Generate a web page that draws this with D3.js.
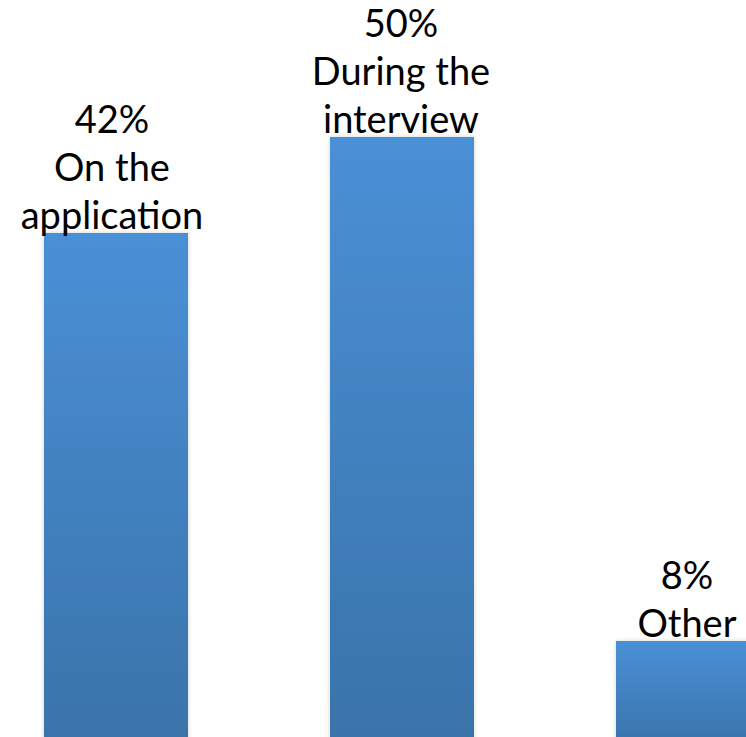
<!DOCTYPE html>
<html>
<head>
<meta charset="utf-8">
<script src="https://cdn.jsdelivr.net/npm/d3@7"></script>
<style>
  html, body { margin: 0; padding: 0; background: #fff; overflow: hidden; }
  svg { display: block; }
</style>
</head>
<body>
<svg id="main-svg"></svg>
<script>
// ----- //
// data
// ----- //
const categories = ["On the application", "During the interview", "Other"];
const values = [42, 50, 8];
const pctLabels = ["42%", "50%", "8%"];
const nameLines = [["On the", "application"], ["During the", "interview"], ["Other"]];

// ----- //
// layout
// ----- //
const width = 746, height = 737;

const svg = d3.select("#main-svg")
    .attr("width", width)
    .attr("height", height);

// bars run off the right edge, same as the original
const x = d3.scaleBand()
    .domain(categories)
    .range([44, 760])
    .paddingInner(142 / 286)
    .paddingOuter(0);

// 12px per percent, baseline at the bottom of the window
const y = d3.scaleLinear()
    .domain([0, 50])
    .range([height, height - 600]);

// gradient + soft shadow
const defs = svg.append("defs");
const grad = defs.append("linearGradient")
    .attr("id", "barGrad")
    .attr("x1", 0).attr("y1", 0).attr("x2", 0).attr("y2", 1);
grad.append("stop").attr("offset", "0%").attr("stop-color", "#4a90d6");
grad.append("stop").attr("offset", "100%").attr("stop-color", "#3973a9");

const shadow = defs.append("filter")
    .attr("id", "shadow")
    .attr("x", "-10%").attr("y", "-10%")
    .attr("width", "120%").attr("height", "120%");
shadow.append("feDropShadow")
    .attr("dx", 0).attr("dy", 0)
    .attr("stdDeviation", 2)
    .attr("flood-color", "#000")
    .attr("flood-opacity", 0.18);

const g = svg.append("g");

g.selectAll(".bar")
    .data(categories)
    .enter()
    .append("rect")
    .attr("class", "bar")
    .attr("x", d => x(d))
    .attr("y", (d, i) => y(values[i]))
    .attr("width", x.bandwidth())
    .attr("height", (d, i) => y(0) - y(values[i]) + 10)
    .attr("fill", "url(#barGrad)")
    .attr("filter", "url(#shadow)");

// labels: percent on top, then category name lines, last line sits just on the bar
const lineH = 48;
const labels = g.selectAll(".label")
    .data(categories)
    .enter()
    .append("text")
    .attr("class", "label")
    .attr("text-anchor", "middle")
    .style("font-family", "Lato, 'Open Sans', sans-serif")
    .style("font-size", "38px")
    .attr("fill", "#000");

labels.each(function(d, i) {
    const lines = [pctLabels[i]].concat(nameLines[i]);
    const cx = x(d) + x.bandwidth() / 2 - (i === 0 ? 4 : 1);
    const baseY = y(values[i]) - 4;  // baseline of last line
    const t = d3.select(this);
    lines.forEach((ln, j) => {
        t.append("tspan")
            .attr("x", cx)
            .attr("y", baseY - (lines.length - 1 - j) * lineH)
            .text(ln);
    });
});
</script>
</body>
</html>
